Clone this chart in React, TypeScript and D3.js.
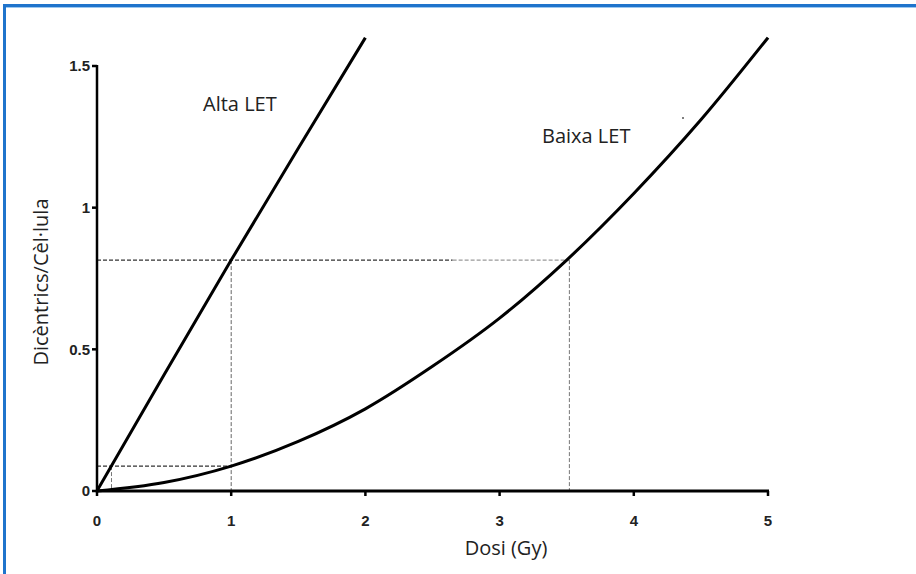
import React from "react";
import * as d3 from "d3";

const doseAlta = [0, 0.5, 1, 1.5, 2];
const valAlta = [0, 0.41, 0.815, 1.21, 1.6];
const doseBaixa = [0, 0.5, 1, 1.5, 2, 2.5, 3, 3.5, 4, 4.5, 5];
const valBaixa = [0, 0.03, 0.088, 0.175, 0.29, 0.44, 0.61, 0.815, 1.05, 1.31, 1.6];
const xTicks = [0, 1, 2, 3, 4, 5];
const yTicks = [0, 0.5, 1, 1.5];
const yTickLabels = ["0", "0.5", "1", "1.5"];
const refHigh = { y: 0.815, dAlta: 1, dBaixa: 3.52 };
const refLow = { y: 0.088, dAlta: 0.108, dBaixa: 1 };

export default function App() {
  const W = 916, H = 574;
  const x = d3.scaleLinear().domain([0, 5]).range([97, 768]);
  const y = d3.scaleLinear().domain([0, 1.5]).range([491, 66]);
  const line = d3.line<[number, number]>().x(d => x(d[0])).y(d => y(d[1])).curve(d3.curveMonotoneX);
  const alta = line(doseAlta.map((d, i) => [d, valAlta[i]]) as [number, number][]) || "";
  const baixa = line(doseBaixa.map((d, i) => [d, valBaixa[i]]) as [number, number][]) || "";
  const tickFont = "'Liberation Sans', Arial, sans-serif";
  const labFont = "'Open Sans', sans-serif";
  return (
    <svg width={W} height={H} style={{ position: "absolute", left: 0, top: 0, background: "#fff" }}>
      <rect x={0} y={0} width={W} height={H} fill="#fff" />
      {/* border */}
      <line x1={4.5} y1={4} x2={4.5} y2={H} stroke="#1f74cc" strokeWidth={3} />
      <line x1={3} y1={5.5} x2={W} y2={5.5} stroke="#1f74cc" strokeWidth={3} />
      <line x1={6} y1={7.5} x2={W} y2={7.5} stroke="#9cc8f0" strokeWidth={1} />
      {/* dashed reference lines */}
      <g fill="none" strokeDasharray="4,2">
        <line x1={x(0)} y1={y(refHigh.y)} x2={x(2.65)} y2={y(refHigh.y)} stroke="#333" strokeWidth={1.3} />
        <line x1={x(2.65)} y1={y(refHigh.y)} x2={x(refHigh.dBaixa)} y2={y(refHigh.y)} stroke="#999" strokeWidth={1.2} />
        <line x1={x(refHigh.dAlta)} y1={y(refHigh.y)} x2={x(refHigh.dAlta)} y2={y(0)} stroke="#666" strokeWidth={1} />
        <line x1={x(refHigh.dBaixa)} y1={y(refHigh.y)} x2={x(refHigh.dBaixa)} y2={y(0)} stroke="#777" strokeWidth={1} />
        <line x1={x(0)} y1={y(refLow.y)} x2={x(refLow.dBaixa)} y2={y(refLow.y)} stroke="#333" strokeWidth={1.3} />
        <line x1={x(refLow.dAlta)} y1={y(refLow.y)} x2={x(refLow.dAlta)} y2={y(0)} stroke="#777" strokeWidth={1} />
      </g>
      {/* curves */}
      <path d={alta} fill="none" stroke="#000" strokeWidth={3} />
      <path d={baixa} fill="none" stroke="#000" strokeWidth={3} />
      {/* axes */}
      <line x1={x(0)} y1={y(1.5) - 1} x2={x(0)} y2={y(0) + 1.5} stroke="#000" strokeWidth={2.5} />
      <line x1={x(0) - 1} y1={y(0)} x2={x(5) + 1} y2={y(0)} stroke="#000" strokeWidth={3} />
      {yTicks.map((t, i) => (
        <g key={"y" + i}>
          <line x1={x(0) - 5} x2={x(0)} y1={y(t)} y2={y(t)} stroke="#000" strokeWidth={2.5} />
          <text x={x(0) - 7} y={y(t)} dy="0.36em" textAnchor="end" fontFamily={tickFont} fontWeight="bold" fontSize={15} fill="#222">
            {yTickLabels[i]}
          </text>
        </g>
      ))}
      {xTicks.map((t, i) => (
        <g key={"x" + i}>
          <line x1={x(t)} x2={x(t)} y1={y(0)} y2={y(0) + 5} stroke="#000" strokeWidth={2.5} />
          <text x={x(t)} y={y(0) + 35} textAnchor="middle" fontFamily={tickFont} fontWeight="bold" fontSize={15} fill="#222">
            {String(t)}
          </text>
        </g>
      ))}
      {/* labels */}
      <text x={506} y={555} textAnchor="middle" fontFamily={labFont} fontSize={20} fill="#222">Dosi (Gy)</text>
      <text transform="translate(48,282) rotate(-90)" textAnchor="middle" fontFamily={labFont} fontSize={20} fill="#222">Dicèntrics/Cèl·lula</text>
      <text x={203} y={111} fontFamily={labFont} fontSize={20} fill="#222">Alta LET</text>
      <text x={542} y={143} fontFamily={labFont} fontSize={20} fill="#222">Baixa LET</text>
      <circle cx={683} cy={118} r={1} fill="#555" />
    </svg>
  );
}
